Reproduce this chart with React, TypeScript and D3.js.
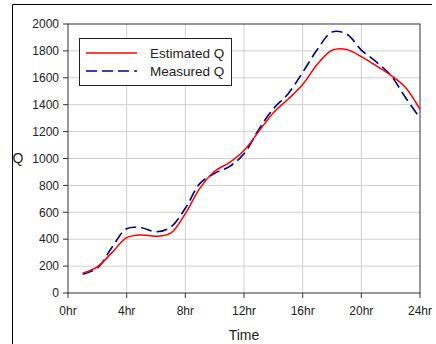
import * as d3 from "d3";

const hours = [1, 2, 3, 4, 5, 6, 7, 8, 9, 10, 11, 12, 13, 14, 15, 16, 17, 18, 19, 20, 21, 22, 23, 24];
const estimatedQ = [148, 195, 300, 412, 432, 422, 445, 590, 780, 905, 970, 1060, 1200, 1340, 1440, 1550, 1700, 1805, 1810, 1757, 1690, 1620, 1530, 1365];
const measuredQ = [140, 185, 340, 478, 485, 455, 490, 630, 815, 890, 940, 1035, 1215, 1370, 1480, 1640, 1810, 1940, 1925, 1806, 1720, 1620, 1455, 1300];
const xTicks = [0, 4, 8, 12, 16, 20, 24];
const yTicks = [0, 200, 400, 600, 800, 1000, 1200, 1400, 1600, 1800, 2000];
const seriesNames = ["Estimated Q", "Measured Q"];

const W = 436;
const H = 344;
const M = { top: 24, right: 16, bottom: 51, left: 68 };
const FONT = "'Liberation Sans', Arial, sans-serif";

export default function App() {
  const x = d3.scaleLinear().domain([0, 24]).range([M.left, W - M.right]);
  const y = d3.scaleLinear().domain([0, 2000]).range([H - M.bottom, M.top]);

  const line = d3
    .line<number>()
    .x((_, i) => x(hours[i]))
    .y((d) => y(d))
    .curve(d3.curveCatmullRom.alpha(0.5));

  const [x0, x1] = x.range();
  const [yb, yt] = y.range();

  return (
    <svg width={W} height={H} style={{ position: "absolute", left: 0, top: 0, display: "block" }} fontFamily={FONT}>
      <rect x={0} y={0} width={W} height={H} fill="white" />
      {/* outer chart frame (only top and left edges are visible) */}
      <line x1={12.5} x2={432} y1={4.5} y2={4.5} stroke="#000" />
      <line x1={12.5} x2={12.5} y1={4.5} y2={H} stroke="#000" />

      {/* grid */}
      {xTicks.slice(1, -1).map((t) => (
        <line key={"gx" + t} x1={x(t)} x2={x(t)} y1={yt} y2={yb} stroke="#d0d0d0" strokeWidth={1} />
      ))}
      {yTicks.slice(1, -1).map((t) => (
        <line key={"gy" + t} x1={x0} x2={x1} y1={y(t)} y2={y(t)} stroke="#d0d0d0" strokeWidth={1} />
      ))}
      <rect x={x0} y={yt} width={x1 - x0} height={yb - yt} fill="none" stroke="#333" strokeWidth={1} />

      {/* y axis */}
      {yTicks.map((t) => (
        <g key={"y" + t}>
          <line x1={x0 - 5} x2={x0} y1={y(t)} y2={y(t)} stroke="#333" />
          <text x={x0 - 9} y={y(t)} dy="0.35em" textAnchor="end" fontSize={12} fill="#222">
            {t}
          </text>
        </g>
      ))}
      {/* x axis */}
      {xTicks.map((t) => (
        <g key={"x" + t}>
          <line x1={x(t)} x2={x(t)} y1={yb} y2={yb + 5} stroke="#333" />
          <text x={x(t)} y={yb + 22} textAnchor="middle" fontSize={12} fill="#222">
            {t}hr
          </text>
        </g>
      ))}
      <text x={(x0 + x1) / 2} y={340} textAnchor="middle" fontSize={14} fill="#222">Time</text>
      <text x={18} y={y(1000)} dy="0.35em" textAnchor="middle" fontSize={14} fill="#222">Q</text>

      {/* series */}
      <path d={line(measuredQ) ?? ""} fill="none" stroke="#000080" strokeWidth={1.6} strokeDasharray="11,5" />
      <path d={line(estimatedQ) ?? ""} fill="none" stroke="#ff0000" strokeWidth={1.5} />

      {/* legend */}
      <g>
        <rect x={79.5} y={38.5} width={152} height={47} fill="white" stroke="#222" strokeWidth={1} />
        <line x1={86} x2={137} y1={53} y2={53} stroke="#ff0000" strokeWidth={1.5} />
        <line x1={86} x2={137} y1={71} y2={71} stroke="#000080" strokeWidth={1.6} strokeDasharray="11,5" />
        <text x={150} y={53} dy="0.35em" fontSize={13.5} fill="#222">{seriesNames[0]}</text>
        <text x={150} y={71} dy="0.35em" fontSize={13.5} fill="#222">{seriesNames[1]}</text>
      </g>
    </svg>
  );
}
